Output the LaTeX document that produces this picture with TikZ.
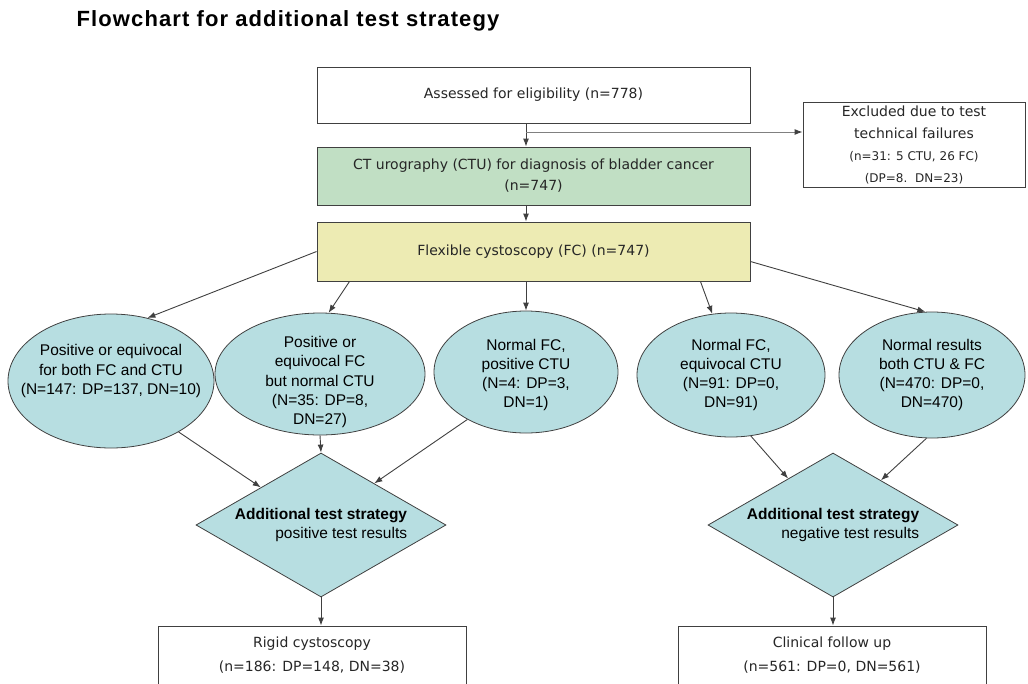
\documentclass[tikz,border=0pt]{standalone}
\usepackage{fontspec}
\setmainfont{Liberation Sans}
\newfontfamily\boxfont{DejaVu Sans}
\newfontfamily\titlefont[LetterSpace=5]{Liberation Sans}
\usetikzlibrary{arrows.meta,shapes.geometric}
\definecolor{cturo}{RGB}{193,223,196}
\definecolor{flexc}{RGB}{237,235,179}
\definecolor{oval}{RGB}{183,222,225}
\definecolor{edge}{RGB}{64,64,64}

\begin{document}
\begin{tikzpicture}[x=1pt,y=-1pt]
\tikzstyle{op}=[-{Latex[length=8pt,width=6pt]},draw=edge,line width=0.9pt]
\tikzstyle{bx}=[rectangle,draw=edge,line width=0.9pt,inner sep=0pt,align=center,text=black!85,font=\boxfont\fontsize{14}{21}\selectfont]
\tikzstyle{ov}=[ellipse,draw=edge,fill=oval,line width=0.8pt,inner sep=0pt]
\tikzstyle{ovtext}=[inner sep=0pt,align=center,font=\fontsize{15.5}{19.2}\selectfont]
\tikzstyle{dm}=[diamond,draw=edge,fill=oval,line width=0.8pt,inner sep=0pt,aspect=1.74,minimum width=250,minimum height=144,align=right,font=\fontsize{15.5}{19}\selectfont]
\useasboundingbox (0,0) rectangle (1028,683);

\node (0) at (288,21) [font=\titlefont\bfseries\fontsize{22}{26}\selectfont]{Flowchart for additional test strategy};

\node (1) at (533.5,95) [bx,minimum width=433,minimum height=56]{Assessed for eligibility (n=778)};
\node (2) at (533.5,176) [bx,fill=cturo,minimum width=433,minimum height=58]{CT urography (CTU) for diagnosis of bladder cancer\\(n=747)};
\node (3) at (533.5,251.5) [bx,fill=flexc,minimum width=433,minimum height=59]{Flexible cystoscopy (FC) (n=747)};
\node (4) at (914,144.5) [bx,minimum width=222,minimum height=85,font=\boxfont\fontsize{14}{22}\selectfont]{Excluded due to test\\technical failures\\{\fontsize{12}{19}\selectfont (n=31: 5 CTU, 26 FC)}\\{\fontsize{12}{19}\selectfont (DP=8.~~DN=23)}};

% result groups
\node (5) at (111,381) [ov,minimum width=206,minimum height=134]{};
\node (5t) at (111,371) [ovtext]{Positive or equivocal\\for both FC and CTU\\(N=147: DP=137, DN=10)};
\node (6) at (320,374) [ov,minimum width=210,minimum height=122]{};
\node (6t) at (320,382) [ovtext]{Positive or\\equivocal FC\\but normal CTU\\(N=35: DP=8,\\DN=27)};
\node (7) at (526,372) [ov,minimum width=184,minimum height=122]{};
\node (7t) at (526,375) [ovtext]{Normal FC,\\positive CTU\\(N=4: DP=3,\\DN=1)};
\node (8) at (731,375) [ov,minimum width=188,minimum height=124]{};
\node (8t) at (731,375) [ovtext]{Normal FC,\\equivocal CTU\\(N=91: DP=0,\\DN=91)};
\node (9) at (932,375) [ov,minimum width=186,minimum height=126]{};
\node (9t) at (932,375) [ovtext]{Normal results\\both CTU \& FC\\(N=470: DP=0,\\DN=470)};

\node (10) at (321,525) [dm]{\textbf{Additional test strategy}\\positive test results};
\node (11) at (833,525) [dm]{\textbf{Additional test strategy}\\negative test results};

\node (12) at (312,655.5) [bx,minimum width=308,minimum height=59,font=\boxfont\fontsize{14}{24}\selectfont]{Rigid cystoscopy\\(n=186: DP=148, DN=38)};
\node (13) at (832,655.5) [bx,minimum width=308,minimum height=59,font=\boxfont\fontsize{14}{24}\selectfont]{Clinical follow up\\(n=561: DP=0, DN=561)};

\coordinate (c) at (526,132);
\draw[op] ([xshift=-7.5pt]1.south) -- ([xshift=-7.5pt]2.north);
\draw[op,draw=gray,-{Latex[length=8pt,width=6pt,color=edge]}] (c) -- (c -| 4.west);
\draw[op] ([xshift=-7.5pt]2.south) -- ([xshift=-7.5pt]3.north);
\draw[op] (3.west) -- (5.60);
\draw[op] ([xshift=33pt]3.south west) -- (6.82);
\draw[op] ([xshift=-7.5pt]3.south) -- (7.north);
\draw[op] ([xshift=-50pt]3.south east) -- (8.107);
\draw[op] ([yshift=-10pt]3.east) -- (9.96);
\draw[op] (5.-37) -- (10.148);
\draw[op] (6.south) -- (10.north);
\draw[op] (7.-141) -- (10.38);
\draw[op] (8.-72) -- (11.134);
\draw[op] (9.-95) -- (11.43);
\draw[op] (10.south) -- (10.south |- 12.north);
\draw[op] (11.south) -- (11.south |- 13.north);
\end{tikzpicture}
\end{document}
